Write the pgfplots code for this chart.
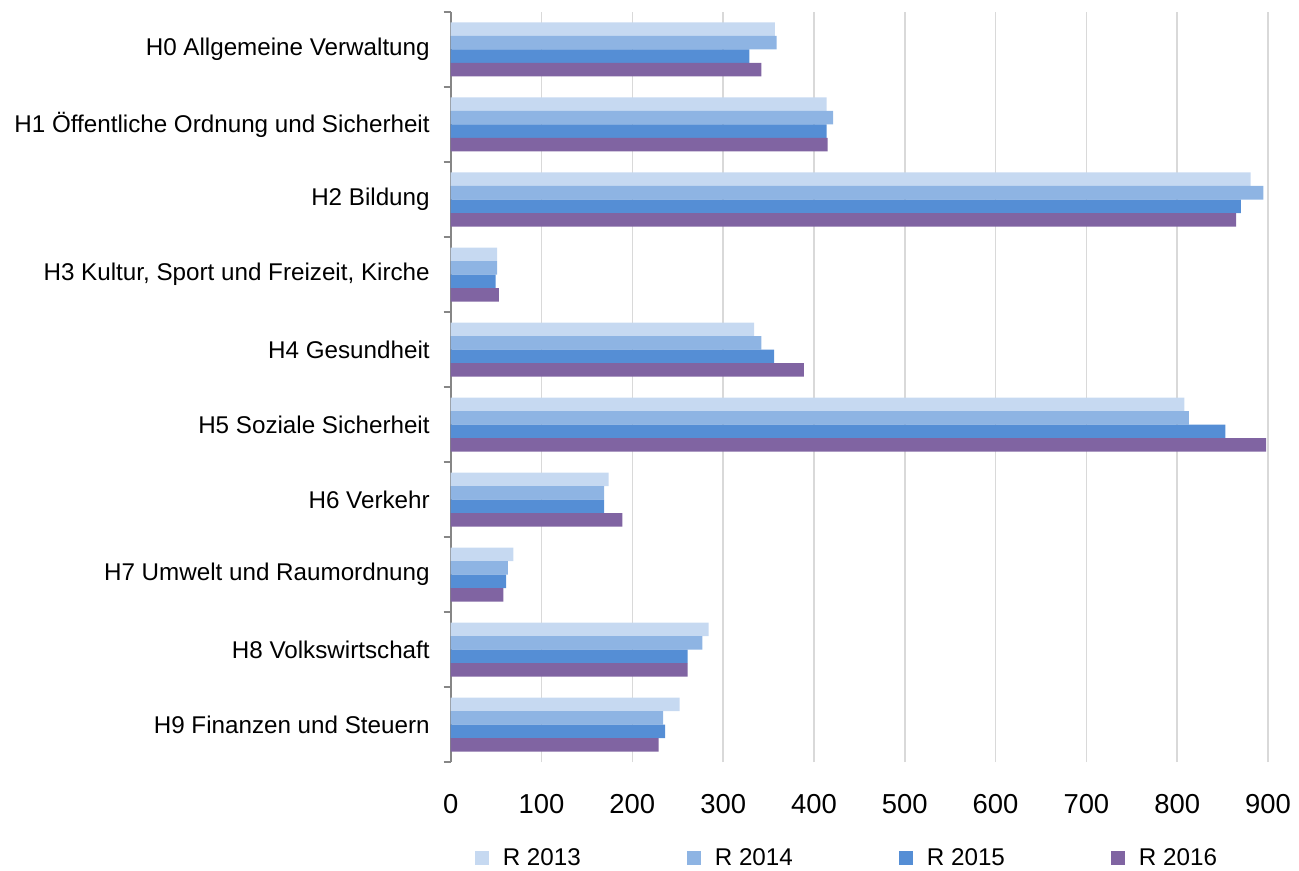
\documentclass[border=0pt]{standalone}
\usepackage{fontspec}
\setmainfont{Liberation Sans}
\usepackage{pgfplots}
\pgfplotsset{compat=1.18}
\usetikzlibrary{calc}

\definecolor{r13}{HTML}{C6D9F1}
\definecolor{r14}{HTML}{8EB4E3}
\definecolor{r15}{HTML}{558ED5}
\definecolor{r16}{HTML}{8064A2}
\definecolor{gridgray}{HTML}{D9D9D9}
\definecolor{axgray}{HTML}{868686}

\begin{document}
\begin{tikzpicture}
\begin{axis}[
  name=ax,
  scale only axis,
  width=408.6pt, height=375pt,
  xbar=0pt, bar width=6.75pt,
  xmin=0, xmax=900,
  ymin=-0.5, ymax=9.5,
  axis y line*=left,
  axis x line*=bottom,
  x axis line style={draw=none},
  y axis line style={axgray, line width=0.85pt, -},
  xtick={0,100,...,900},
  ytick={0,...,9},
  yticklabels={H9 Finanzen und Steuern, H8 Volkswirtschaft, H7 Umwelt und Raumordnung,
    H6 Verkehr, H5 Soziale Sicherheit, H4 Gesundheit, {H3 Kultur, Sport und Freizeit, Kirche},
    H2 Bildung, H1 Öffentliche Ordnung und Sicherheit, H0 Allgemeine Verwaltung},
  minor ytick={-0.5,0.5,1.5,2.5,3.5,4.5,5.5,6.5,7.5,8.5,9.5},
  tick align=outside,
  major tick length=0pt,
  minor tick length=3.5pt,
  minor tick style={axgray, line width=0.85pt},
  xmajorgrids,
  major x grid style={gridgray, line width=0.75pt},
  /pgf/number format/assume math mode=true,
  xticklabel style={font=\fontsize{13.7}{16}\selectfont, yshift=-12.5pt},
  yticklabel style={font=\fontsize{12.1}{14}\selectfont, xshift=-7pt},
  legend columns=4,
  legend style={at={(0.486,-0.128)}, anchor=center, draw=none, fill=none,
    font=\fontsize{12.1}{14}\selectfont,
    /tikz/every odd column/.append style={column sep=5pt},
    /tikz/every even column/.append style={column sep=51pt}},
  legend image code/.code={\fill[#1] (0pt,-3.5pt) rectangle (7pt,3.5pt);},
]
\addplot[fill=r13, draw=none, bar shift=10.125pt] coordinates {
  (357,9) (414,8) (881,7) (51,6) (334,5) (808,4) (174,3) (69,2) (284,1) (252,0)};
\addplot[fill=r14, draw=none, bar shift=3.375pt] coordinates {
  (359,9) (421,8) (895,7) (51,6) (342,5) (813,4) (169,3) (63,2) (277,1) (234,0)};
\addplot[fill=r15, draw=none, bar shift=-3.375pt] coordinates {
  (329,9) (414,8) (870,7) (49.5,6) (356,5) (853,4) (169,3) (61,2) (261,1) (236,0)};
\addplot[fill=r16, draw=none, bar shift=-10.125pt] coordinates {
  (342,9) (415,8) (865,7) (53,6) (389,5) (898,4) (189,3) (58,2) (261,1) (229,0)};
\legend{R 2013, R 2014, R 2015, R 2016}
\end{axis}
\pgfresetboundingbox
\path ($(ax.south west)+(-225.35pt,-54pt)$) rectangle ($(ax.north east)+(15.5pt,6pt)$);
\end{tikzpicture}
\end{document}
